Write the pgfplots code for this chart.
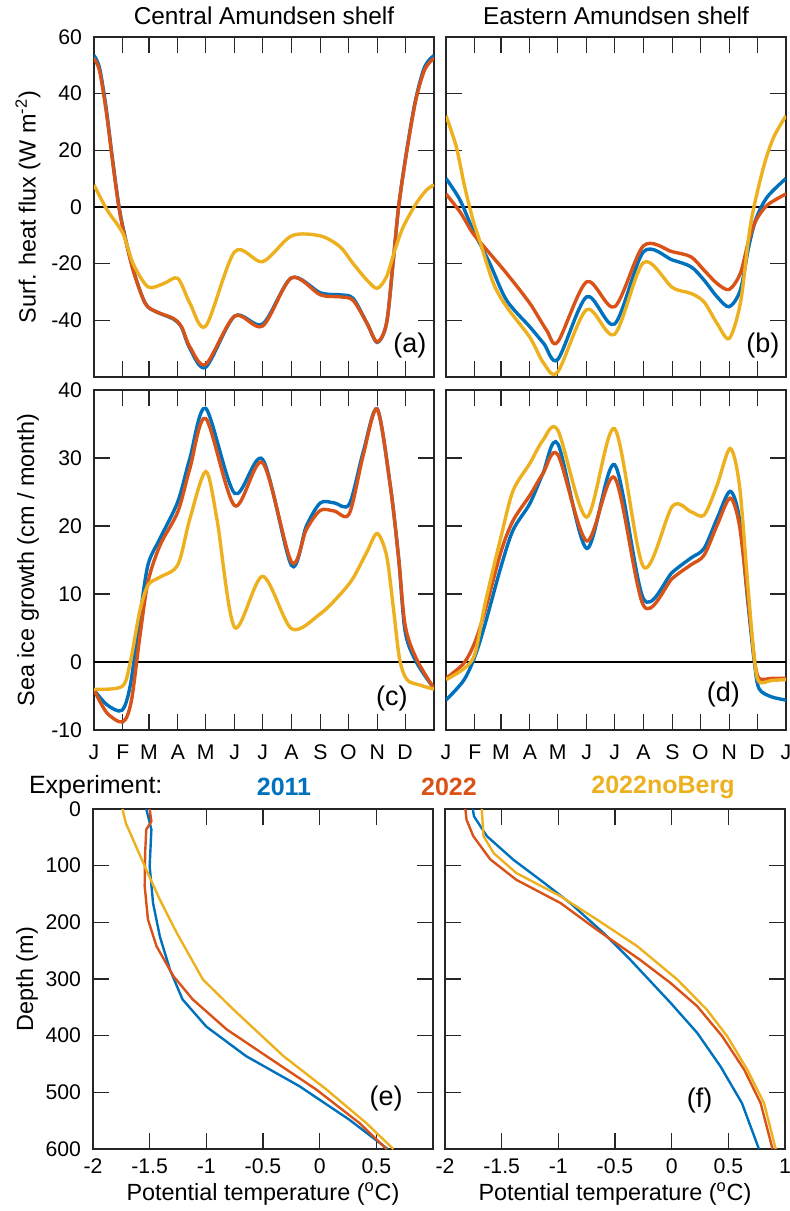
\documentclass[border=0pt]{standalone}
\usepackage{pgfplots}
\pgfplotsset{compat=1.18}
\usepackage{fontspec}
\setmainfont{Liberation Sans}
\definecolor{cb}{RGB}{0,114,189}
\definecolor{cr}{RGB}{217,83,25}
\definecolor{cy}{RGB}{237,177,32}
\tikzset{
  sl/.style={smooth, line width=1.7pt},
  pl/.style={line width=1.2pt},
  tag/.style={font=\fontsize{13.5}{15}\selectfont, anchor=center},
}
\pgfplotsset{
  every axis title shift=0pt,
  panel/.style={
    scale only axis, width=170pt, height=170pt, anchor=north west,
    tick align=inside, major tick length=8pt,
    axis line style={black!85, line width=0.6pt},
    every tick/.style={black!85, line width=0.6pt},
    tick label style={font=\fontsize{10.6}{12}\selectfont},
    label style={font=\fontsize{11.7}{13}\selectfont},
    /pgf/number format/assume math mode=true,
    yticklabel style={xshift=-2.5pt},
    ylabel style={at={(axis description cs:-0.194,0.5)}, anchor=center},
    title style={font=\fontsize{12.2}{14}\selectfont, at={(axis description cs:0.5,1)}, anchor=base, yshift=6.2pt},
    clip=true,
  },
  season/.style={panel, xmin=0, xmax=365,
    xtick={0,31,59,90,120,151,181,212,243,273,304,334,365},
    xticklabels={J,F,M,A,M,J,J,A,S,O,N,D,J},
    xticklabel style={yshift=-4pt},
  },
  prof/.style={panel, xmin=-2, xmax=1, ymin=0, ymax=600, y dir=reverse,
    xtick={-2,-1.5,...,1}, ytick={0,100,...,600},
    xticklabel style={yshift=-1.5pt},
    xlabel={Potential temperature (\textsuperscript{o}C)},
    xlabel style={at={(axis description cs:0.5,-0.132)}, anchor=center},
  },
}
\begin{document}
\begin{tikzpicture}
\useasboundingbox (0,0) rectangle (395pt,-605.5pt);
% (a)
\begin{axis}[season, at={(47pt,-18.5pt)}, ymin=-60, ymax=60, ytick={-40,-20,0,20,40,60},
  xticklabels={}, title={Central Amundsen shelf}, ylabel={Surf. heat flux (W m\textsuperscript{-2})}]
\addplot[black, line width=0.6pt] coordinates {(0,0) (365,0)};
\addplot[sl, cb] coordinates {(0,53.5)(6,49)(13,35)(20,16.5)(26,2)(31,-7)(42,-22)(55,-34)(67,-37)(85,-39.5)(94,-42.5)(103,-50)(120,-56.5)(151,-38.5)(181,-41.3)(212,-25)(243,-30.3)(264,-31)(278,-32.2)(293,-41)(304,-47.8)(314,-41.1)(321,-19.9)(327,0)(335,18.5)(345,37.5)(355,49.5)(365,53.5)};
\addplot[sl, cr] coordinates {(0,52.5)(6,48)(13,34)(20,16)(26,1.4)(31,-7.5)(42,-22.3)(55,-34)(67,-37)(85,-39.3)(94,-42.3)(103,-49.4)(120,-55.5)(151,-38.5)(181,-42)(212,-25)(243,-31)(264,-31.7)(278,-32.9)(293,-41)(304,-47.6)(314,-41.1)(321,-19.9)(327,0)(335,18)(345,37)(355,48.5)(365,52.5)};
\addplot[sl, cy] coordinates {(0,7.8)(14,-1)(31,-9.3)(42,-20)(58,-28.2)(75,-27)(90,-25.2)(103,-34)(120,-42)(151,-15.8)(181,-19.3)(212,-10.2)(243,-10.2)(264,-14)(278,-19.9)(293,-25.8)(304,-28.7)(314,-24.6)(323,-15.2)(332,-7)(346,1.3)(357,6)(365,7.8)};
\node[tag] at (rel axis cs:0.929,0.094) {(a)};
\end{axis}
% (b)
\begin{axis}[season, at={(223pt,-18.5pt)}, ymin=-60, ymax=60, ytick={-40,-20,0,20,40,60},
  xticklabels={}, yticklabels={}, title={Eastern Amundsen shelf}]
\addplot[black, line width=0.6pt] coordinates {(0,0) (365,0)};
\addplot[sl, cb] coordinates {(0,10.1)(15,2.5)(29,-8.1)(47,-19.9)(65,-32.9)(90,-42.3)(105,-48.2)(120,-53.8)(151,-31.7)(181,-41.3)(212,-15.8)(243,-18.7)(263,-21.1)(277,-25.8)(291,-31.7)(304,-35.2)(316,-29.3)(325,-14)(333,-4)(345,3.6)(365,10.1)};
\addplot[sl, cr] coordinates {(0,4.6)(15,-1.7)(29,-9.3)(47,-16.4)(65,-23.4)(90,-34)(108,-43.5)(120,-47.6)(151,-26.4)(181,-35.2)(212,-13.7)(243,-15.8)(263,-17.6)(277,-22.3)(291,-27)(304,-29.1)(316,-23.4)(325,-11.7)(333,-4.6)(345,0.7)(365,4.6)};
\addplot[sl, cy] coordinates {(0,32.2)(11,21.3)(20,7.2)(29,-4.6)(37,-12.8)(51,-27)(65,-35.2)(90,-46)(105,-55.2)(120,-58.2)(151,-36.2)(181,-44.9)(212,-19.6)(243,-28.4)(263,-30.5)(277,-33.5)(291,-41.1)(304,-46.4)(316,-34)(325,-10.5)(331,0.7)(342,15.4)(352,24.8)(365,32.2)};
\node[tag] at (rel axis cs:0.932,0.094) {(b)};
\end{axis}
% (c)
\begin{axis}[season, at={(47pt,-195pt)}, ymin=-10, ymax=40, ytick={-10,0,...,40},
  xticklabels={J,F,M,A,M,J,J,A,S,O,N,D,{}},
  ylabel={Sea ice growth (cm / month)}]
\addplot[black, line width=0.6pt] coordinates {(0,0) (365,0)};
\addplot[sl, cb] coordinates {(0,-4.1)(14,-6.3)(30,-7.1)(39,-3.4)(49,6.4)(58,14.3)(71,18.2)(90,23.6)(103,30)(120,37.3)(151,24.8)(181,29.8)(212,14.2)(228,20)(243,23.4)(258,23.4)(274,23.2)(289,30.9)(304,37.2)(318,26)(327,15.3)(334,4.5)(346,0)(365,-3.9)};
\addplot[sl, cr] coordinates {(0,-4.1)(14,-7.5)(31,-8.8)(40,-5.8)(49,3.5)(58,11.8)(71,17.2)(90,22.1)(103,28.5)(120,35.8)(151,23)(181,29.3)(212,14.7)(228,19.5)(243,22.3)(258,22.2)(274,21.8)(289,30.4)(304,37.2)(318,26)(327,15.3)(334,5.4)(346,0.5)(365,-3.9)};
\addplot[sl, cy] coordinates {(0,-4)(30,-3.6)(39,0)(49,7.4)(58,11.3)(71,12.5)(90,14.3)(103,21.1)(120,28)(132,21)(151,5.1)(181,12.6)(212,4.9)(243,7.1)(264,9.9)(278,12.3)(293,16.2)(304,18.9)(314,15.7)(321,8.4)(328,0.5)(336,-2.6)(350,-3.4)(365,-4)};
\node[tag] at (rel axis cs:0.876,0.094) {(c)};
\end{axis}
% (d)
\begin{axis}[season, at={(223pt,-195pt)}, ymin=-10, ymax=40, ytick={-10,0,...,40}, yticklabels={}]
\addplot[black, line width=0.6pt] coordinates {(0,0) (365,0)};
\addplot[sl, cb] coordinates {(0,-5.6)(19,-2.7)(31,0.8)(42,5.6)(59,14)(72,19.4)(90,23.3)(104,27.7)(120,32.1)(151,16.7)(181,29)(212,9.3)(243,13.2)(263,15.3)(277,16.7)(291,21.1)(305,25.1)(315,21.1)(324,8.9)(331,0)(336,-3.9)(349,-5.1)(365,-5.6)};
\addplot[sl, cr] coordinates {(0,-2.4)(19,-0.2)(31,2.9)(42,7.6)(59,16.2)(72,20.8)(90,24.5)(104,27.7)(120,30.5)(151,17.8)(181,27.1)(212,8.3)(243,12.3)(263,14.3)(277,15.7)(291,20.1)(305,24.1)(315,20.1)(324,9.4)(331,0.5)(336,-2.4)(350,-2.4)(365,-2.4)};
\addplot[sl, cy] coordinates {(0,-2.6)(19,-1)(31,1.2)(42,8.6)(59,18.4)(72,25.2)(90,29.2)(104,32.6)(120,34.1)(151,21.3)(181,34.3)(212,14)(243,22.9)(263,22.1)(277,21.6)(291,26)(305,31.4)(315,26)(324,11.3)(331,0.5)(336,-2.9)(350,-2.7)(365,-2.6)};
\node[tag] at (rel axis cs:0.816,0.103) {(d)};
\end{axis}
% legend text
\node[font=\fontsize{12.5}{14}\selectfont, anchor=west] at (11pt,-393.5pt) {Experiment:};
\node[font=\fontsize{12.5}{14}\selectfont\bfseries, text=cb] at (142pt,-393.5pt) {2011};
\node[font=\fontsize{12.5}{14}\selectfont\bfseries, text=cr] at (224.5pt,-393.5pt) {2022};
\node[font=\fontsize{12.5}{14}\selectfont\bfseries, text=cy] at (331.5pt,-393.5pt) {2022noBerg};
% (e)
\begin{axis}[prof, at={(46.5pt,-404.5pt)}, xtick={-2,-1.5,...,0.5}, ylabel={Depth (m)}]
\addplot[pl, cb] coordinates {(-1.53,0)(-1.485,36)(-1.5,101)(-1.47,166)(-1.41,225)(-1.32,284)(-1.21,336)(-1.0,384)(-0.65,436)(-0.18,489)(0.26,548)(0.60,600)};
\addplot[pl, cr] coordinates {(-1.5,0)(-1.485,22)(-1.53,36)(-1.54,78)(-1.544,136)(-1.515,195)(-1.44,242)(-1.29,295)(-1.12,336)(-0.82,389)(-0.47,436)(-0.03,495)(0.35,554)(0.59,600)};
\addplot[pl, cy] coordinates {(-1.74,0)(-1.71,25)(-1.62,66)(-1.53,107)(-1.41,160)(-1.26,219)(-1.03,301)(-0.76,354)(-0.32,436)(0.06,495)(0.41,554)(0.65,600)};
\node[tag] at (rel axis cs:0.862,0.15) {(e)};
\end{axis}
% (f)
\begin{axis}[prof, at={(222.5pt,-404.5pt)}, yticklabels={}]
\addplot[pl, cb] coordinates {(-1.755,0)(-1.744,13)(-1.63,48)(-1.40,89)(-1.16,125)(-0.895,166)(-0.60,219)(-0.365,266)(-0.01,342)(0.225,395)(0.43,454)(0.62,519)(0.77,600)};
\addplot[pl, cr] coordinates {(-1.82,0)(-1.81,19)(-1.75,48)(-1.60,89)(-1.37,125)(-0.98,166)(-0.66,213)(-0.28,266)(-0.01,307)(0.225,348)(0.446,401)(0.64,460)(0.785,519)(0.89,600)};
\addplot[pl, cy] coordinates {(-1.676,0)(-1.66,48)(-1.57,78)(-1.37,113)(-0.98,154)(-0.66,195)(-0.305,242)(0.05,301)(0.31,354)(0.49,401)(0.667,460)(0.815,519)(0.918,600)};
\node[tag] at (rel axis cs:0.749,0.144) {(f)};
\end{axis}
\end{tikzpicture}
\end{document}
